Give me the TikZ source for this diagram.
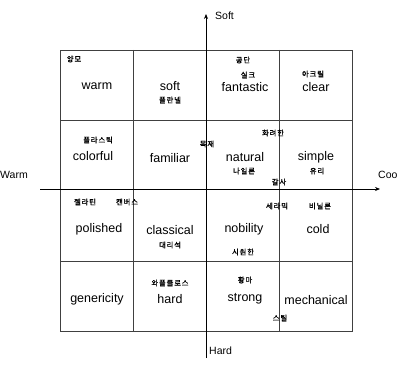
\documentclass[tikz,border=0pt]{standalone}
\usepackage{fontspec}
\setmainfont{Liberation Sans}
\newfontfamily\kr[LetterSpace=12,FakeBold=1.2]{Noto Sans CJK KR}
\usetikzlibrary{arrows.meta}
\begin{document}
\begin{tikzpicture}[x=1pt,y=-1pt,
  word/.style={font=\fontsize{12.5}{14}\selectfont, inner sep=0pt},
  kor/.style={font=\kr\fontsize{7.3}{8}\selectfont, inner sep=0pt},
  grid/.style={draw=black!75, line width=0.5pt},
  axis/.style={draw=black, line width=0.7pt, -{Stealth[length=5pt,width=4pt]}}]
\useasboundingbox (0,0) rectangle (402,369);
\fill[white] (0,0) rectangle (402,369);
% grid
\draw[grid] (60,50) rectangle (352,331);
\foreach \x in {133,279} \draw[grid] (\x,50) -- (\x,331);
\foreach \y in {120,261} \draw[grid] (60,\y) -- (352,\y);
% axes
\coordinate (wl) at (40,189);
\coordinate (cr) at (380,189);
\coordinate (hb) at (206,358);
\coordinate (st) at (206,14);
\draw[axis] (wl) -- (cr);
\draw[axis] (hb) -- (st);
\node[word, anchor=west, font=\fontsize{10.5}{12}\selectfont] (soft0) at (215,16) {Soft};
\node[word, anchor=west, font=\fontsize{10.5}{12}\selectfont] (hard0) at (209,351) {Hard};
\node[word, anchor=west, font=\fontsize{10.5}{12}\selectfont] (warm0) at (0,175) {Warm};
\node[word, anchor=west, font=\fontsize{10.5}{12}\selectfont] (cool0) at (378,175) {Coo};
% row 1
\node[kor] (k1) at (74,59) {양모};
\node[word] (w1) at (97,86) {warm};
\node[word] (w2) at (170,86) {soft};
\node[kor] (k2) at (170,100) {플란넬};
\node[kor] (k3) at (243,60) {공단};
\node[kor] (k4) at (248,75) {실크};
\node[word] (w3) at (245,87) {fantastic};
\node[kor] (k5) at (313,74) {아크릴};
\node[word] (w4) at (316,87) {clear};
% row 2
\node[kor] (k6) at (98,140) {플라스틱};
\node[word] (w5) at (93,156) {colorful};
\node[word] (w6) at (170,158) {familiar};
\node[kor] (k7) at (207,144) {목재};
\node[kor] (k8) at (273,133) {화려한};
\node[word] (w7) at (245,157) {natural};
\node[kor] (k9) at (244,171) {나일론};
\node[word] (w8) at (316,157) {simple};
\node[kor] (k10) at (317,171) {유리};
\node[kor] (k11) at (279,182) {갈사};
\node[kor] (k12) at (85,202) {젤라틴};
\node[kor] (k13) at (127,202) {캔버스};
% row 3
\node[word] (w9) at (99,229) {polished};
\node[word] (w10) at (170,230) {classical};
\node[kor] (k14) at (170,245) {대리석};
\node[kor] (k15) at (277,206) {세라믹};
\node[kor] (k16) at (320,206) {비닐론};
\node[word] (w11) at (244,229) {nobility};
\node[word] (w12) at (318,229) {cold};
\node[kor] (k17) at (243,252) {시원한};
% row 4
\node[kor] (k18) at (170,283) {와플클로스};
\node[word] (w13) at (170,299) {hard};
\node[word] (w14) at (97,299) {genericity};
\node[kor] (k19) at (245,280) {황마};
\node[word] (w15) at (245,299) {strong};
\node[word] (w16) at (316,300) {mechanical};
\node[kor] (k20) at (280,318) {스틸};
\end{tikzpicture}
\end{document}
